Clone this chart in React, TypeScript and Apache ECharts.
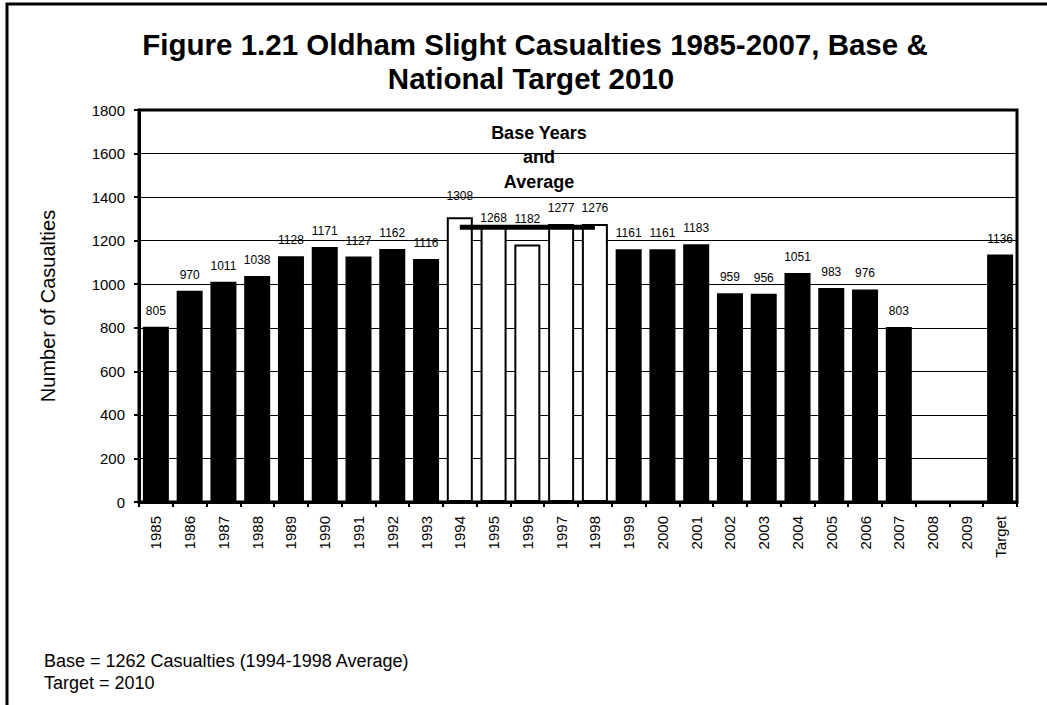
import React, { useEffect, useRef } from "react";
import * as echarts from "echarts";

const categories = [
  "1985", "1986", "1987", "1988", "1989", "1990", "1991", "1992", "1993",
  "1994", "1995", "1996", "1997", "1998", "1999", "2000", "2001", "2002",
  "2003", "2004", "2005", "2006", "2007", "2008", "2009", "Target",
];
const casualties: (number | null)[] = [
  805, 970, 1011, 1038, 1128, 1171, 1127, 1162, 1116,
  1308, 1268, 1182, 1277, 1276, 1161, 1161, 1183, 959,
  956, 1051, 983, 976, 803, null, null, 1136,
];
const baseYears = ["1994", "1995", "1996", "1997", "1998"];
const baseAverage = 1262;
const yTicks = { min: 0, max: 1800, interval: 200 };

const titleLines = [
  "Figure 1.21 Oldham Slight Casualties 1985-2007, Base &",
  "National Target 2010",
];
const baseNote = "Base Years\nand\nAverage";
const footnotes = [
  "Base = 1262 Casualties (1994-1998 Average)",
  "Target = 2010",
];

const FONT = 'Arial, "Liberation Sans", sans-serif';
// label distance tweaks (styling only)
const labelDistance: Record<string, number> = { "1994": 15, "1995": 1.5, "1996": 20 };

export default function App() {
  const ref = useRef<HTMLDivElement>(null);
  useEffect(() => {
    if (!ref.current) return;
    const chart = echarts.init(ref.current, undefined, { renderer: "svg" });
    const barData = categories.map((c, i) => {
      const v = casualties[i];
      const isBase = baseYears.includes(c);
      return {
        value: v === null ? "-" : v,
        itemStyle: isBase
          ? { color: "#fff", borderColor: "#000", borderWidth: 2 }
          : { color: "#000" },
        label: {
          show: v !== null,
          distance: labelDistance[c] ?? 10,
        },
      };
    });
    const avgData = categories.map((c) => (baseYears.includes(c) ? baseAverage : "-"));

    chart.setOption({
      animation: false,
      backgroundColor: "#fff",
      textStyle: { fontFamily: FONT },
      grid: {
        left: 139,
        right: 30,
        top: 110,
        bottom: 203,
        show: true,
        borderColor: "#000",
        borderWidth: 3,
        backgroundColor: "#fff",
      },
      xAxis: {
        type: "category",
        data: categories,
        boundaryGap: true,
        axisLine: { show: true, lineStyle: { color: "#000", width: 3 } },
        axisTick: { show: true, alignWithLabel: false, length: 5, lineStyle: { color: "#000", width: 2 } },
        axisLabel: {
          rotate: 90,
          interval: 0,
          margin: 14,
          fontSize: 15,
          color: "#000",
          fontFamily: FONT,
        },
        splitLine: { show: false },
      },
      yAxis: {
        type: "value",
        min: yTicks.min,
        max: yTicks.max,
        interval: yTicks.interval,
        name: "Number of Casualties",
        nameLocation: "middle",
        nameGap: 81,
        nameRotate: 90,
        nameTextStyle: { fontSize: 20, color: "#000", fontFamily: FONT },
        axisLine: { show: true, lineStyle: { color: "#000", width: 3 } },
        axisTick: { show: true, length: 5, lineStyle: { color: "#000", width: 2 } },
        axisLabel: {
          fontSize: 15,
          color: "#000",
          margin: 14,
          fontFamily: FONT,
          formatter: (v: number) => String(v),
        },
        splitLine: { show: true, lineStyle: { color: "#000", width: 1 } },
      },
      series: [
        {
          type: "bar",
          data: barData,
          barCategoryGap: "23%",
          label: {
            show: true,
            position: "top",
            fontSize: 12,
            color: "#000",
            fontFamily: FONT,
          },
          z: 2,
        },
        {
          type: "line",
          data: avgData,
          symbol: "none",
          lineStyle: { color: "#000", width: 5 },
          z: 5,
        },
      ],
      graphic: [
        {
          type: "rect",
          shape: { x: 7, y: 4, width: 1100, height: 800 },
          style: { fill: "none", stroke: "#000", lineWidth: 3 },
          silent: true,
          z: 100,
        },
        {
          type: "text",
          x: 535,
          y: 44,
          style: {
            text: titleLines[0],
            font: `bold 29.5px ${FONT}`,
            fill: "#000",
            textAlign: "center",
            textVerticalAlign: "middle",
          },
          z: 100,
        },
        {
          type: "text",
          x: 531,
          y: 78,
          style: {
            text: titleLines[1],
            font: `bold 29.5px ${FONT}`,
            fill: "#000",
            textAlign: "center",
            textVerticalAlign: "middle",
          },
          z: 100,
        },
        {
          type: "text",
          x: 539,
          y: 157,
          style: {
            text: baseNote,
            font: `bold 18px ${FONT}`,
            lineHeight: 24.5,
            fill: "#000",
            textAlign: "center",
            textVerticalAlign: "middle",
          },
          z: 100,
        },
        {
          type: "text",
          x: 44,
          y: 661,
          style: {
            text: footnotes[0],
            font: `18px ${FONT}`,
            fill: "#000",
            textAlign: "left",
            textVerticalAlign: "middle",
          },
          z: 100,
        },
        {
          type: "text",
          x: 44,
          y: 683,
          style: {
            text: footnotes[1],
            font: `18px ${FONT}`,
            fill: "#000",
            textAlign: "left",
            textVerticalAlign: "middle",
          },
          z: 100,
        },
      ],
    });
    return () => chart.dispose();
  }, []);
  return (
    <div
      ref={ref}
      style={{ position: "absolute", left: 0, top: 0, width: 1047, height: 705 }}
    />
  );
}
